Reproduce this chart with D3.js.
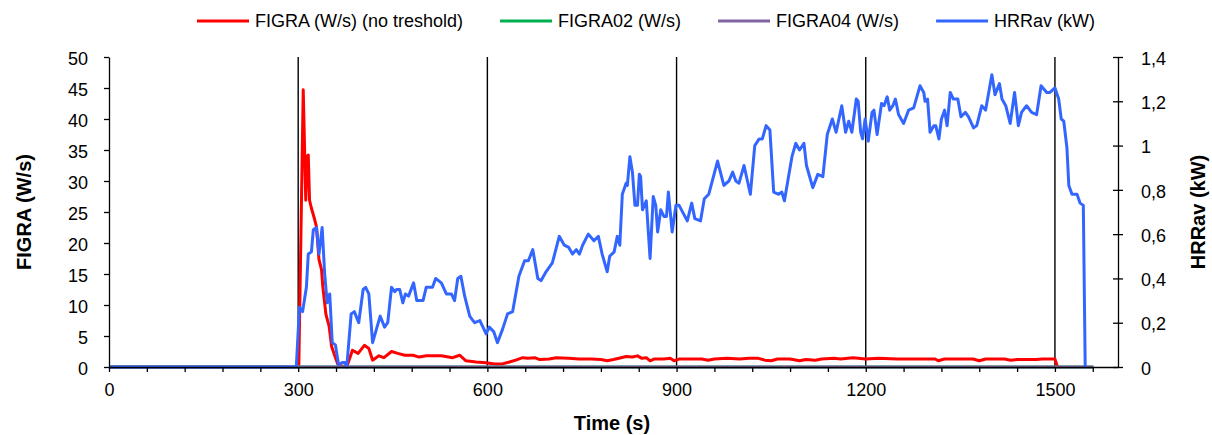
<!DOCTYPE html>
<html>
<head>
<meta charset="utf-8">
<script src="https://cdn.jsdelivr.net/npm/d3@7/dist/d3.min.js"></script>
<style>
  body { margin: 0; padding: 0; background: #fff; }
  svg text { font-family: "Liberation Sans", Arial, sans-serif; fill: #000; }
</style>
</head>
<body>
<div id="chart"></div>
<script>
// ---- data ----
var seriesNames = ["FIGRA (W/s) (no treshold)", "FIGRA02 (W/s)", "FIGRA04 (W/s)", "HRRav (kW)"];
var seriesColors = ["#ff0000", "#00b050", "#8064a2", "#3366ff"];

var xTickLabels = [0, 300, 600, 900, 1200, 1500];
var leftTicks = [0, 5, 10, 15, 20, 25, 30, 35, 40, 45, 50];
var rightTicks = [0, 0.2, 0.4, 0.6, 0.8, 1, 1.2, 1.4];
var markerLines = [300, 600, 900, 1200, 1500];

// FIGRA (W/s)
var figraTime = [0, 301, 308, 312, 314, 316, 318, 321, 325, 329, 333, 337, 339, 344, 349, 353, 358, 363, 368, 377,
  386, 395, 405, 412, 418, 428, 436, 448, 458, 469, 482, 492, 503, 527, 545, 556, 566, 582, 598, 611,
  624, 635, 645, 656, 664, 675, 683, 698, 709, 729, 745, 765, 780, 790, 800, 812, 820, 830, 838, 845,
  852, 858, 865, 880, 890, 896, 905, 940, 950, 960, 980, 1000, 1015, 1030, 1040, 1050, 1060, 1080, 1095, 1105,
  1120, 1130, 1150, 1160, 1180, 1200, 1220, 1250, 1310, 1315, 1325, 1370, 1380, 1390, 1420, 1430, 1440, 1470, 1480, 1500, 1504];
var figraValue = [0, 0, 44.7, 26.9, 33.9, 34.2, 26.9, 25.6, 24.2, 22.6, 17.3, 15.7, 13.0, 8.5, 6.6, 3.3, 1.8, 0.4, 0.2, 0,
  2.7, 2.2, 3.5, 3.0, 1.1, 1.8, 1.5, 2.5, 2.2, 1.9, 1.9, 1.6, 1.8, 1.8, 1.5, 1.9, 1.0, 0.8, 0.7, 0.5,
  0.5, 0.8, 1.1, 1.5, 1.4, 1.5, 1.2, 1.3, 1.5, 1.4, 1.3, 1.3, 1.2, 1.0, 1.2, 1.5, 1.7, 1.6, 1.8, 1.4,
  1.5, 1.0, 1.3, 1.3, 1.4, 1.0, 1.3, 1.3, 1.1, 1.3, 1.4, 1.3, 1.4, 1.4, 1.1, 1.0, 1.3, 1.3, 1.0, 1.2,
  1.1, 1.3, 1.4, 1.3, 1.5, 1.3, 1.4, 1.3, 1.3, 1.0, 1.3, 1.3, 1.0, 1.3, 1.3, 1.1, 1.2, 1.2, 1.3, 1.3, 0];

// FIGRA02 / FIGRA04 (W/s) - stay at zero
var figra02Time = [0, 1561];
var figra02Value = [0, 0];
var figra04Time = [0, 1561];
var figra04Value = [0, 0];

// HRRav (kW)
var hrrTime = [0, 297, 302, 307, 313, 316, 321, 324, 329, 333, 338, 342, 346, 350, 354, 359, 364, 370, 374, 377,
  384, 389, 396, 403, 407, 412, 418, 425, 430, 437, 442, 448, 453, 456, 461, 466, 470, 475, 483, 488,
  498, 503, 508, 513, 518, 527, 535, 543, 548, 553, 558, 564, 572, 577, 580, 588, 593, 598, 603, 610,
  616, 624, 632, 640, 650, 659, 665, 672, 680, 685, 693, 703, 714, 722, 729, 735, 741, 746, 751, 760,
  769, 776, 782, 790, 794, 801, 806, 810, 814, 820, 822, 826, 830, 834, 838, 841, 843, 846, 852, 858,
  863, 867, 870, 875, 880, 884, 887, 893, 899, 904, 917, 924, 929, 938, 944, 951, 965, 975, 983, 989,
  994, 999, 1007, 1017, 1024, 1031, 1036, 1042, 1048, 1054, 1062, 1067, 1071, 1077, 1083, 1089, 1095, 1102, 1106, 1116,
  1124, 1132, 1139, 1147, 1153, 1162, 1168, 1173, 1178, 1185, 1188, 1192, 1195, 1199, 1204, 1210, 1213, 1218, 1225, 1229,
  1234, 1238, 1243, 1247, 1252, 1260, 1268, 1276, 1281, 1286, 1292, 1294, 1298, 1302, 1308, 1311, 1316, 1320, 1325, 1329,
  1334, 1339, 1346, 1351, 1358, 1363, 1371, 1376, 1384, 1390, 1395, 1400, 1405, 1412, 1416, 1422, 1429, 1436, 1442, 1447,
  1455, 1463, 1471, 1478, 1487, 1492, 1500, 1506, 1510, 1514, 1519, 1522, 1527, 1535, 1540, 1545, 1548];
var hrrValue = [0, 0, 0.27, 0.25, 0.36, 0.51, 0.52, 0.62, 0.63, 0.51, 0.63, 0.42, 0.29, 0.33, 0.11, 0.10, 0.01, 0.02, 0.02, 0,
  0.24, 0.25, 0.20, 0.35, 0.36, 0.33, 0.11, 0.18, 0.23, 0.18, 0.20, 0.36, 0.34, 0.35, 0.35, 0.29, 0.33, 0.32, 0.38, 0.30,
  0.30, 0.36, 0.36, 0.36, 0.40, 0.38, 0.33, 0.33, 0.30, 0.40, 0.41, 0.32, 0.23, 0.21, 0.20, 0.21, 0.18, 0.15, 0.18, 0.16,
  0.11, 0.17, 0.24, 0.25, 0.41, 0.48, 0.48, 0.53, 0.40, 0.39, 0.43, 0.47, 0.59, 0.55, 0.54, 0.51, 0.53, 0.51, 0.55, 0.60,
  0.57, 0.59, 0.51, 0.43, 0.50, 0.52, 0.59, 0.55, 0.78, 0.83, 0.82, 0.95, 0.88, 0.73, 0.73, 0.87, 0.86, 0.71, 0.75, 0.49,
  0.77, 0.73, 0.61, 0.71, 0.68, 0.68, 0.79, 0.61, 0.73, 0.73, 0.66, 0.74, 0.67, 0.66, 0.76, 0.78, 0.93, 0.82, 0.84, 0.88,
  0.84, 0.83, 0.91, 0.78, 1.00, 1.03, 1.03, 1.09, 1.07, 0.79, 0.78, 0.79, 0.75, 0.85, 0.95, 1.01, 0.98, 1.01, 0.91, 0.81,
  0.87, 0.86, 1.05, 1.12, 1.06, 1.18, 1.06, 1.11, 1.06, 1.21, 1.20, 1.06, 1.03, 1.12, 1.02, 1.15, 1.16, 1.05, 1.19, 1.18,
  1.22, 1.16, 1.18, 1.21, 1.14, 1.10, 1.16, 1.17, 1.22, 1.27, 1.24, 1.20, 1.21, 1.06, 1.09, 1.09, 1.03, 1.12, 1.16, 1.09,
  1.24, 1.21, 1.21, 1.13, 1.15, 1.13, 1.08, 1.09, 1.18, 1.16, 1.24, 1.32, 1.23, 1.28, 1.21, 1.18, 1.10, 1.24, 1.09, 1.15,
  1.18, 1.15, 1.14, 1.27, 1.24, 1.24, 1.26, 1.21, 1.12, 1.11, 0.99, 0.82, 0.78, 0.78, 0.74, 0.73, 0];

// ---- drawing ----
var W = 1212, H = 435;
var plot = { left: 109, right: 1118, top: 57, bottom: 367 };

var svg = d3.select("#chart").append("svg")
    .attr("width", W)
    .attr("height", H);

var x = d3.scaleLinear().domain([0, 1600]).range([plot.left, plot.right]);
var yL = d3.scaleLinear().domain([0, 50]).range([plot.bottom, plot.top]);
var yR = d3.scaleLinear().domain([0, 1.4]).range([plot.bottom, plot.top]);

function zip(ts, vs) {
    return ts.map(function (t, i) { return [t, vs[i]]; });
}

// vertical marker lines
svg.selectAll("line.marker")
    .data(markerLines)
    .enter().append("line")
    .attr("class", "marker")
    .attr("x1", function (d) { return x(d); })
    .attr("x2", function (d) { return x(d); })
    .attr("y1", plot.top)
    .attr("y2", plot.bottom)
    .attr("stroke", "#000")
    .attr("stroke-width", 1.4);

// series lines, drawn in legend order
var lineL = d3.line().x(function (d) { return x(d[0]); }).y(function (d) { return yL(d[1]); });
var lineR = d3.line().x(function (d) { return x(d[0]); }).y(function (d) { return yR(d[1]); });

var series = [
    { data: zip(figraTime, figraValue), gen: lineL },
    { data: zip(figra02Time, figra02Value), gen: lineL },
    { data: zip(figra04Time, figra04Value), gen: lineL },
    { data: zip(hrrTime, hrrValue), gen: lineR }
];

series.forEach(function (s, i) {
    svg.append("path")
        .attr("d", s.gen(s.data))
        .attr("fill", "none")
        .attr("stroke", seriesColors[i])
        .attr("stroke-width", 3)
        .attr("stroke-linejoin", "round")
        .attr("stroke-linecap", "butt");
});

// axes
var fmtComma = function (d) { return d3.format(".1~f")(d).replace(".", ","); };

var xAxis = svg.append("g")
    .attr("transform", "translate(0," + plot.bottom + ")")
    .call(d3.axisBottom(x)
        .tickValues(d3.range(0, 1601, 60))
        .tickFormat(function (d) { return xTickLabels.indexOf(d) >= 0 ? d : ""; })
        .tickSize(5)
        .tickSizeOuter(0)
        .tickPadding(11));

var yAxisL = svg.append("g")
    .attr("transform", "translate(" + plot.left + ",0)")
    .call(d3.axisLeft(yL)
        .tickValues(leftTicks)
        .tickSize(5)
        .tickSizeOuter(0)
        .tickPadding(16));

var yAxisR = svg.append("g")
    .attr("transform", "translate(" + plot.right + ",0)")
    .call(d3.axisRight(yR)
        .tickValues(rightTicks)
        .tickFormat(fmtComma)
        .tickSize(5)
        .tickSizeOuter(0)
        .tickPadding(18));
yAxisR.selectAll(".tick line").attr("x1", -5).attr("x2", 5);

[xAxis, yAxisL, yAxisR].forEach(function (g) {
    g.select(".domain").attr("stroke", "#000").attr("stroke-width", 1.3);
    g.selectAll(".tick line").attr("stroke", "#000").attr("stroke-width", 1.3);
    g.selectAll(".tick text")
        .attr("font-size", 18)
        .attr("font-family", "Liberation Sans, Arial, sans-serif")
        .attr("fill", "#000");
});
yAxisL.selectAll(".tick text").attr("dy", "0.4em");
yAxisR.selectAll(".tick text").attr("dy", "0.4em");

// axis titles
svg.append("text")
    .attr("x", 612)
    .attr("y", 430)
    .attr("text-anchor", "middle")
    .attr("font-size", 20)
    .attr("font-weight", "bold")
    .text("Time (s)");

svg.append("text")
    .attr("transform", "translate(31," + ((plot.top + plot.bottom) / 2) + ") rotate(-90)")
    .attr("text-anchor", "middle")
    .attr("font-size", 20)
    .attr("font-weight", "bold")
    .text("FIGRA (W/s)");

svg.append("text")
    .attr("transform", "translate(1205," + ((plot.top + plot.bottom) / 2) + ") rotate(-90)")
    .attr("text-anchor", "middle")
    .attr("font-size", 20)
    .attr("font-weight", "bold")
    .text("HRRav (kW)");

// legend
var legend = svg.append("g").attr("transform", "translate(0,21)");
var lx = 197;
seriesNames.forEach(function (name, i) {
    legend.append("line")
        .attr("x1", lx).attr("x2", lx + 52)
        .attr("y1", 0).attr("y2", 0)
        .attr("stroke", seriesColors[i])
        .attr("stroke-width", 3);
    var t = legend.append("text")
        .attr("x", lx + 58)
        .attr("y", 0)
        .attr("dy", "0.36em")
        .attr("font-size", 18)
        .text(name);
    lx += 58 + t.node().getComputedTextLength() + 37;
});
</script>
</body>
</html>
